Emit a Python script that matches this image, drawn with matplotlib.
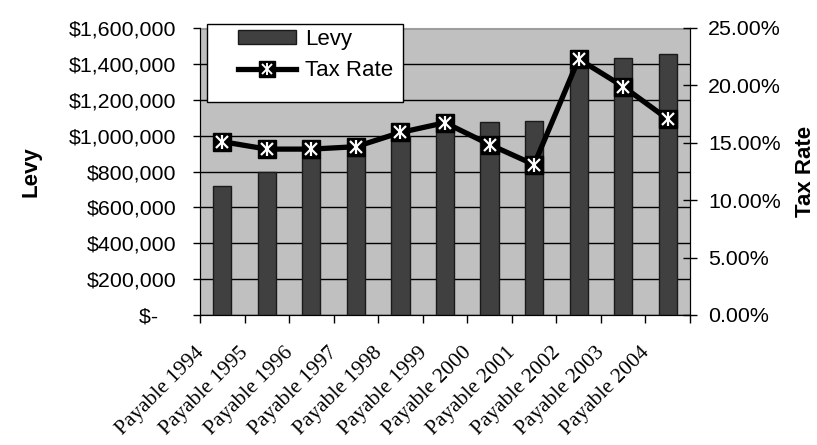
import numpy as np
import matplotlib
matplotlib.use("Agg")
import matplotlib.pyplot as plt
import matplotlib.transforms as mtransforms
from matplotlib.patches import Patch, Rectangle
from matplotlib.lines import Line2D
from matplotlib.ticker import FuncFormatter

plt.rcParams['font.family'] = ['Liberation Sans', 'DejaVu Sans']

# data
years = ['Payable 1994', 'Payable 1995', 'Payable 1996', 'Payable 1997',
         'Payable 1998', 'Payable 1999', 'Payable 2000', 'Payable 2001',
         'Payable 2002', 'Payable 2003', 'Payable 2004']
levy = [720000, 800000, 873000, 885000, 1000000, 1050000,
        1076000, 1083000, 1384000, 1431000, 1455000]
tax_rate = [15.1, 14.45, 14.45, 14.66, 15.9, 16.75,
            14.85, 13.1, 22.3, 19.9, 17.07]

levy_ticks = np.arange(0, 1600001, 200000)
rate_ticks = np.arange(0, 25.01, 5)

W, H = 817, 445
fig = plt.figure(figsize=(W / 100, H / 100), dpi=100)
ax = fig.add_axes([200 / W, 1 - 315 / H, 490 / W, 287 / H])
ax.set_facecolor('#c0c0c0')

x = np.arange(len(years))
ax.bar(x, levy, width=0.41, color='#404040', edgecolor='#1a1a1a',
       linewidth=1, zorder=3)

ax.set_xlim(-0.5, len(years) - 0.5)
ax.set_ylim(0, 1600000)
ax.set_yticks(levy_ticks)
ax.yaxis.set_major_formatter(FuncFormatter(
    lambda v, p: '$-   ' if v == 0 else f'${v:,.0f}'))
ax.grid(axis='y', color='black', linewidth=1, zorder=1)
ax.set_axisbelow(True)
ax.tick_params(axis='y', direction='out', length=5, width=1,
               labelsize=15.4, pad=12)

# category boundaries as ticks, labels at centres
ax.set_xticks(np.arange(-0.5, len(years)), minor=True)
ax.set_xticks(x)
ax.set_xticklabels(years, rotation=45, ha='right', va='center',
                   rotation_mode='anchor', fontsize=15.5,
                   family=['Liberation Serif', 'DejaVu Serif'])
ax.tick_params(axis='x', which='major', length=0, pad=25)
ax.tick_params(axis='x', which='minor', direction='out', length=6, width=1)
shift = mtransforms.ScaledTranslation(-21 / 100, 0, fig.dpi_scale_trans)
for lab in ax.xaxis.get_majorticklabels():
    lab.set_transform(lab.get_transform() + shift)

ax.spines['top'].set_color('#a0a0a0')
for s in ['left', 'bottom', 'right']:
    ax.spines[s].set_color('black')
ax.set_ylabel('Levy', fontsize=16, fontweight='bold')
ax.yaxis.set_label_coords((42 - 200) / 490, 0.5)

ax2 = ax.twinx()
ax2.set_ylim(0, 25)
ax2.set_yticks(rate_ticks)
ax2.yaxis.set_major_formatter(FuncFormatter(lambda v, p: f'{v:.2f}%'))
ax2.tick_params(axis='y', direction='inout', length=10, width=1,
                labelsize=15.4, pad=8)
ax2.spines['top'].set_visible(False)
ax2.plot(x, tax_rate, color='black', linewidth=3.8, marker='s',
         markersize=13, markerfacecolor='black', zorder=5)
ax2.plot(x, tax_rate, linestyle='none', marker='x', markersize=8.5,
         markeredgecolor='white', markeredgewidth=1.6, zorder=6)
ax2.plot(x, tax_rate, linestyle='none', marker='|', markersize=10,
         markeredgecolor='white', markeredgewidth=1.6, zorder=6)
ax2.set_ylabel('Tax Rate', fontsize=16, fontweight='bold')
ax2.yaxis.set_label_coords((795 - 200) / 490, 0.5)

# legend: white box with black border, entries inside
box = Rectangle((207 / W, 1 - 102 / H), 196 / W, 78 / H,
                transform=fig.transFigure, facecolor='white',
                edgecolor='black', linewidth=1, zorder=5)
fig.add_artist(box)
rate_handle = (
    Line2D([], [], color='black', linewidth=3.8, marker='s', markersize=11),
    Line2D([], [], linestyle='none', marker='x', markersize=7,
           markeredgecolor='white', markeredgewidth=1.4),
    Line2D([], [], linestyle='none', marker='|', markersize=8,
           markeredgecolor='white', markeredgewidth=1.4),
)
handles = [Patch(facecolor='#404040', edgecolor='#1a1a1a'), rate_handle]
leg = fig.legend(handles, ['Levy', 'Tax Rate'], loc='upper left',
                 bbox_to_anchor=(238 / W, 1 - 29 / H), borderaxespad=0,
                 borderpad=0, frameon=False, fontsize=16,
                 handlelength=2.6, handleheight=0.6, labelspacing=0.45,
                 handletextpad=0.4)
leg.set_zorder(6)

fig.savefig('out.png', dpi=100)
